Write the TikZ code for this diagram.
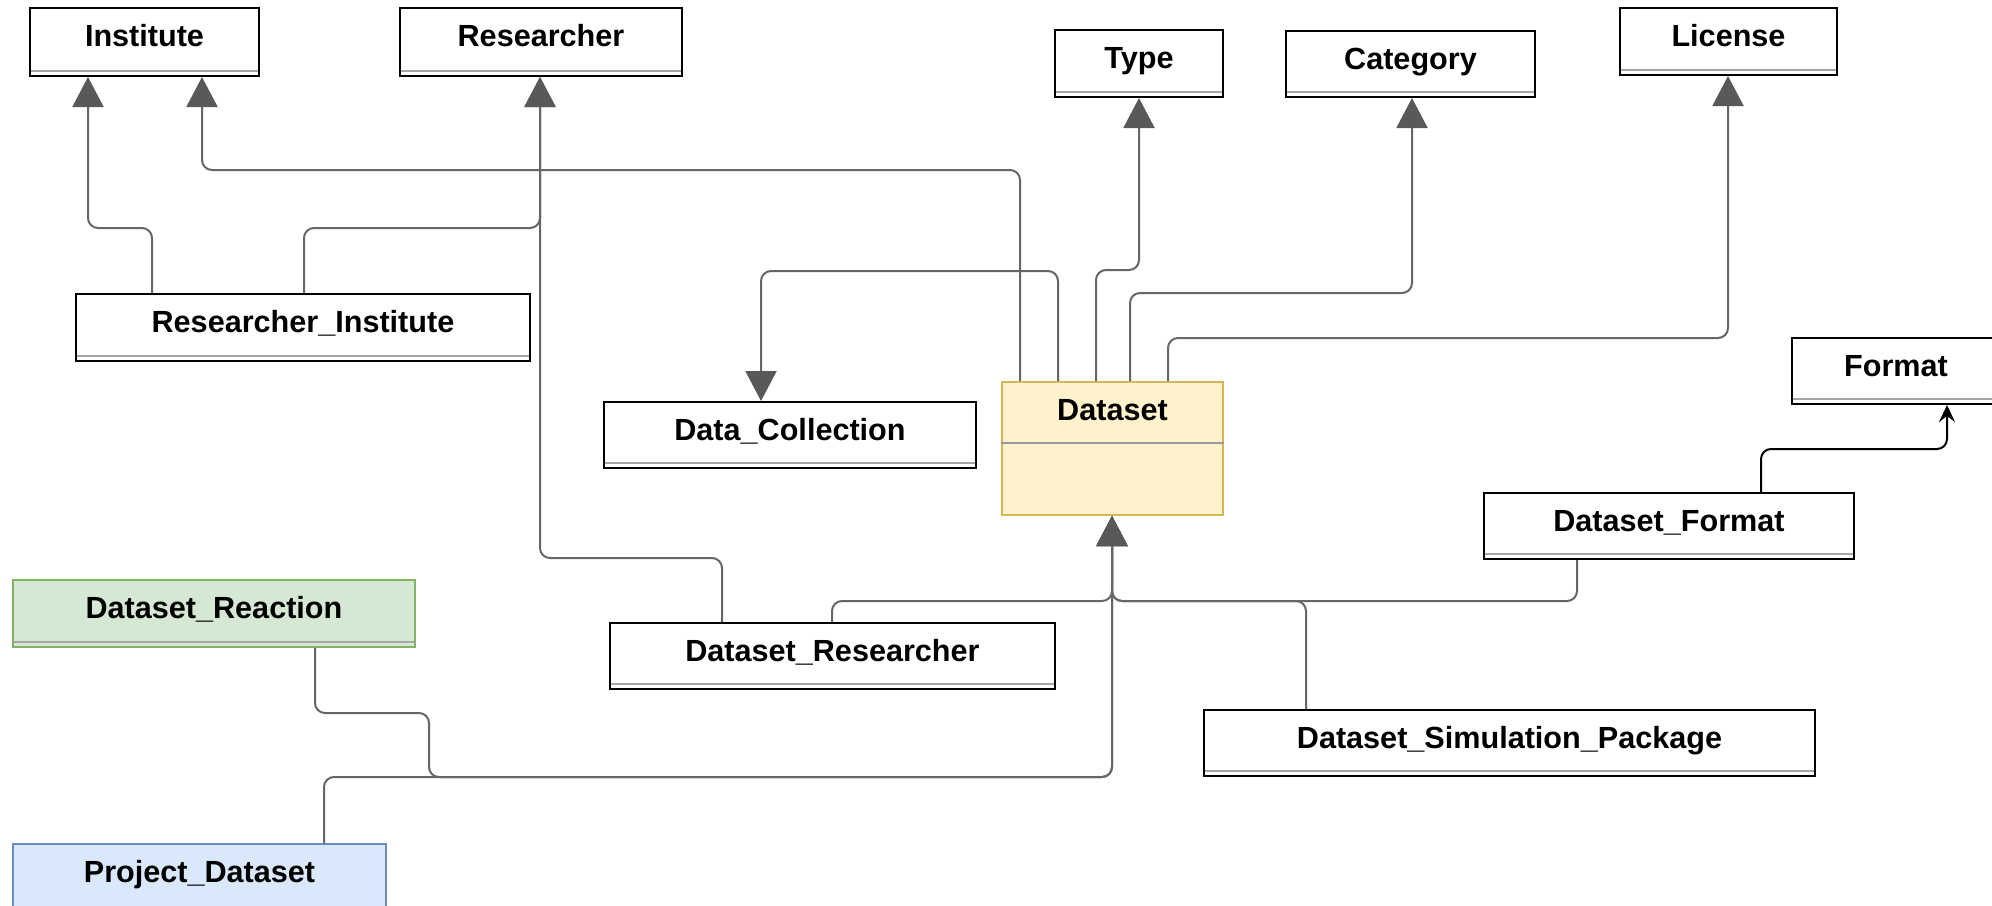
\documentclass[tikz,border=0pt]{standalone}
\usepackage{fontspec}
\setmainfont{Liberation Sans}
\usetikzlibrary{arrows.meta,fit}
\definecolor{lc}{RGB}{102,102,102}
\definecolor{ac}{RGB}{89,89,89}
\definecolor{dsfill}{HTML}{FFF2CC}
\definecolor{dsline}{HTML}{D6B656}
\definecolor{drfill}{HTML}{D5E8D4}
\definecolor{drline}{HTML}{82B366}
\definecolor{pdfill}{HTML}{DAE8FC}
\definecolor{pdline}{HTML}{6C8EBF}
\newcommand\ent[7][]{%
  \path (#3,#4) coordinate (#2-nw) (#5,#6) coordinate (#2-se);
  \node[ebox,#1,fit=(#2-nw)(#2-se)] (#2) {};
  \node[lbl] (#2-t) at ([yshift=-19.8pt]#2.north) {#7};
}
\newcommand\sepline[1]{%
  \draw[sepl] ([shift={(1pt,3pt)}]#1.south west) -- ([shift={(-1pt,3pt)}]#1.south east);
}
\begin{document}
\begin{tikzpicture}[x=0.5pt,y=-0.5pt,
  ebox/.style={draw=black,line width=1pt,fill=white,inner sep=0pt},
  dsbox/.style={draw=dsline,fill=dsfill},
  drbox/.style={draw=drline,fill=drfill},
  pdbox/.style={draw=pdline,fill=pdfill},
  lbl/.style={font=\fontsize{15.3}{18}\selectfont\bfseries,anchor=base,inner sep=0pt},
  sepl/.style={draw=black!35,line width=1pt},
  fk/.style={draw=lc,line width=1pt,rounded corners=5pt,-{Triangle[width=15.5pt,length=15pt,fill=ac,color=ac]}},
  fmtarrow/.style={draw=black,line width=1pt,rounded corners=5pt,-{Stealth[length=8.5pt,width=8pt,inset=3pt]}}]
\useasboundingbox[fill=white] (0,0) rectangle (1992,905);

% entities
\ent{inst}{30}{8}{259}{76}{Institute}\sepline{inst}
\ent{res}{400}{8}{682}{76}{Researcher}\sepline{res}
\ent{type}{1055}{30}{1223}{97}{Type}\sepline{type}
\ent{cat}{1286}{31}{1535}{97}{Category}\sepline{cat}
\ent{lic}{1620}{8}{1837}{75}{License}\sepline{lic}
\ent{ri}{76}{294}{530}{361}{Researcher\_Institute}\sepline{ri}
\ent{dc}{604}{402}{976}{468}{Data\_Collection}\sepline{dc}
\ent[dsbox]{ds}{1002}{382}{1223}{515}{Dataset}
\draw[draw=black!40,line width=1pt] (ds.west |- 0,443) -- (ds.east |- 0,443);
\ent{fmt}{1792}{338}{2000}{404}{Format}\sepline{fmt}
\ent{df}{1484}{493}{1854}{559}{Dataset\_Format}\sepline{df}
\ent[drbox]{dr}{13}{580}{415}{647}{Dataset\_Reaction}\sepline{dr}
\ent{dres}{610}{623}{1055}{689}{Dataset\_Researcher}\sepline{dres}
\ent{dsp}{1204}{710}{1815}{776}{Dataset\_Simulation\_Package}\sepline{dsp}
\ent[pdbox]{pd}{13}{844}{386}{912}{Project\_Dataset}

% connectors
\draw[fk] (152,0 |- ri.north) |- (88,228) -- (88,0 |- inst.south);
\draw[fk] (304,0 |- ri.north) |- (540,228) -- (540,0 |- res.south);
\draw[fk] (722,0 |- dres.north) |- (540,558) -- (540,0 |- res.south);
\draw[fk] (1020,0 |- ds.north) |- (202,170) -- (202,0 |- inst.south);
\draw[fk] (1058,0 |- ds.north) |- (761,271) -- (761,0 |- dc.north);
\draw[fk] (1096,0 |- ds.north) |- (1139,270) -- (1139,0 |- type.south);
\draw[fk] (1130,0 |- ds.north) |- (1412,293) -- (1412,0 |- cat.south);
\draw[fk] (1168,0 |- ds.north) |- (1728,338) -- (1728,0 |- lic.south);
\draw[fmtarrow] (1761,0 |- df.north) |- (1947,449) -- (1947,0 |- fmt.south);
\draw[fk] (832,0 |- dres.north) |- (1112,601) -- (1112,0 |- ds.south);
\draw[fk] (1577,0 |- df.south) |- (1112,601) -- (1112,0 |- ds.south);
\draw[fk] (1306,0 |- dsp.north) |- (1112,601) -- (1112,0 |- ds.south);
\draw[fk] (315,0 |- dr.south) |- (429,713) |- (1112,777) -- (1112,0 |- ds.south);
\draw[fk] (324,0 |- pd.north) |- (1112,777) -- (1112,0 |- ds.south);
\end{tikzpicture}
\end{document}
